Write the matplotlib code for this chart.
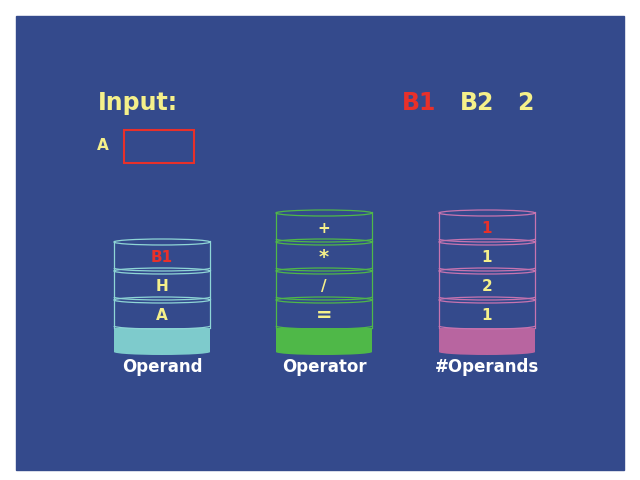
import matplotlib
matplotlib.use("Agg")
import matplotlib.pyplot as plt
from matplotlib.patches import Rectangle, Ellipse, Arc

operand_stack = ["A", "H", "B1"]
operator_stack = ["=", "/", "*", "+"]
count_stack = ["1", "2", "1", "1"]
stack_names = ["Operand", "Operator", "#Operands"]
input_tokens = ["B1", "B2", "2"]
input_colors = ["#e8302a", "#f5f08a", "#f5f08a"]

BG = "#344a8c"
YEL = "#f5f08a"
RED = "#e8302a"

fig = plt.figure(figsize=(6.4, 4.8), dpi=100)
ax = fig.add_axes([0, 0, 1, 1])
ax.set_xlim(0, 640); ax.set_ylim(480, 0); ax.axis("off")
ax.add_patch(Rectangle((16, 16), 608, 454, color=BG))

ax.text(98, 103, "Input:", color=YEL, fontsize=17, fontweight="bold", va="center")
xs = [402, 460, 517]
for x, t, c in zip(xs, input_tokens, input_colors):
    ax.text(x, 103, t, color=c, fontsize=17, fontweight="bold", va="center")
ax.text(97, 145, "A", color=YEL, fontsize=11, fontweight="bold", va="center")
ax.add_patch(Rectangle((124, 130), 70, 33, fill=False, ec=RED, lw=1.5))

stacks = [(162, operand_stack, "#7ecbcc", "#8fd6d6"),
          (324, operator_stack, "#4fb848", "#4fb848"),
          (487, count_stack, "#b865a0", "#c874b0")]
w = 96; dh = 29; base_top = 328; base_bot = 355
for (cx, items, fill, edge), name in zip(stacks, stack_names):
    x0 = cx - w / 2
    ax.add_patch(Rectangle((x0, base_top), w, base_bot - base_top - 3, color=fill, lw=0))
    ax.add_patch(Ellipse((cx, base_bot - 3), w, 6, color=fill, lw=0))
    for i, t in enumerate(items):
        yb = base_top - i * dh
        yt = yb - dh
        ax.plot([x0, x0], [yt, yb], color=edge, lw=0.9)
        ax.plot([x0 + w, x0 + w], [yt, yb], color=edge, lw=0.9)
        ax.add_patch(Ellipse((cx, yt + 1), w, 6, fill=False, ec=edge, lw=0.9))
        ax.add_patch(Arc((cx, yb - 2), w, 6, theta1=0, theta2=180, ec=edge, lw=0.9))
        col = RED if (t == "B1" or (i == len(items) - 1 and items is count_stack)) else YEL
        fs = 14 if t in ("=", "*") else 11
        ax.text(cx, yb - dh / 2 + 2, t, color=col, fontsize=fs, fontweight="bold",
                ha="center", va="center")
    ax.text(cx, 367, name, color="white", fontsize=12, fontweight="bold", ha="center", va="center")

fig.savefig("out.png", dpi=100, facecolor="white")
